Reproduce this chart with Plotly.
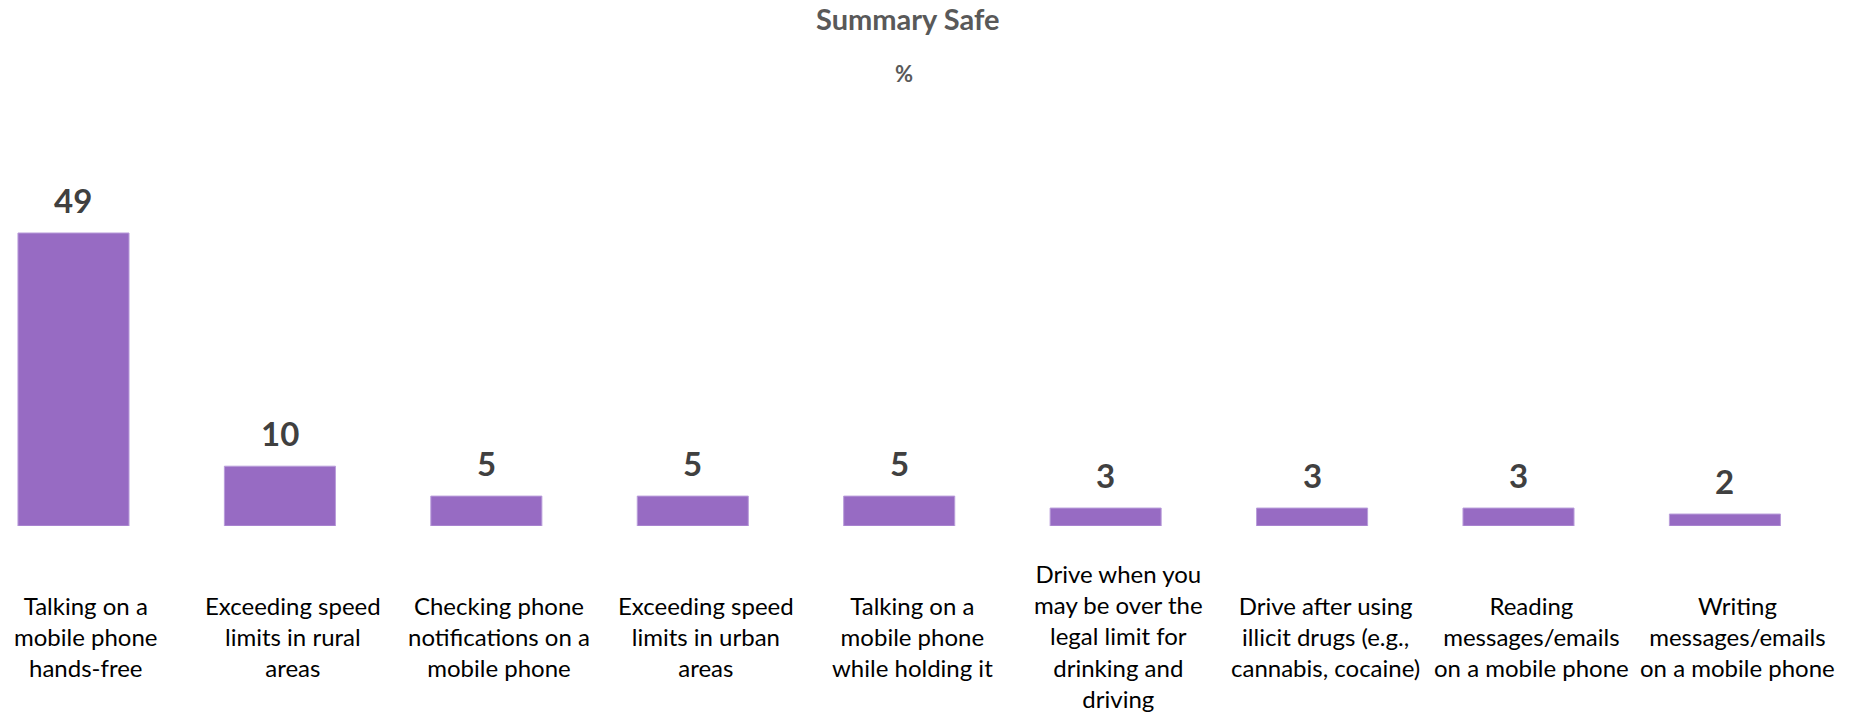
import plotly.graph_objects as go

# Survey items and share of respondents rating each behaviour as safe (%)
categories = [
    "Talking on a<br>mobile phone<br>hands-free",
    "Exceeding speed<br>limits in rural<br>areas",
    "Checking phone<br>notifications on a<br>mobile phone",
    "Exceeding speed<br>limits in urban<br>areas",
    "Talking on a<br>mobile phone<br>while holding it",
    "Drive when you<br>may be over the<br>legal limit for<br>drinking and<br>driving",
    "Drive after using<br>illicit drugs (e.g.,<br>cannabis, cocaine)",
    "Reading<br>messages/emails<br>on a mobile phone",
    "Writing<br>messages/emails<br>on a mobile phone",
]
values = [49, 10, 5, 5, 5, 3, 3, 3, 2]

title_text = "Summary Safe"
unit_text = "%"

FONT = "Lato, 'Open Sans', sans-serif"
BAR_COLOR = "#976BC3"
BAR_EDGE = "#B99DDA"

fig = go.Figure()
fig.add_trace(go.Bar(
    x=list(range(len(categories))),
    y=values,
    marker=dict(color=BAR_COLOR, line=dict(color=BAR_EDGE, width=1)),
    width=0.538,
    hoverinfo="skip",
))

annotations = []
# value labels above each bar
for i, v in enumerate(values):
    annotations.append(dict(
        x=i, y=v, xref="x", yref="y",
        text=f"<b>{v}</b>", showarrow=False,
        xanchor="center", yanchor="bottom", yshift=11,
        font=dict(family=FONT, size=33, color="#404040"),
    ))
# category labels under the bars
for i, c in enumerate(categories):
    annotations.append(dict(
        x=i, y=0, xref="x", yref="paper",
        text=c, showarrow=False,
        xanchor="center", yanchor="middle", yshift=-110, xshift=13,
        align="center",
        font=dict(family=FONT, size=24, color="#000000"),
    ))
# chart heading and unit line
annotations.append(dict(
    x=907 / 1862, y=1, xref="paper", yref="paper",
    text=f"<b>{title_text}</b>", showarrow=False,
    xanchor="center", yanchor="middle", yshift=82,
    font=dict(family=FONT, size=29, color="#595959"),
))
annotations.append(dict(
    x=904 / 1862, y=1, xref="paper", yref="paper",
    text=f"<b>{unit_text}</b>", showarrow=False,
    xanchor="center", yanchor="middle", yshift=27,
    font=dict(family=FONT, size=22, color="#595959"),
))

fig.update_layout(
    width=1862, height=714,
    margin=dict(l=0, r=0, t=100, b=188, pad=0),
    paper_bgcolor="white", plot_bgcolor="white",
    showlegend=False,
    annotations=annotations,
    xaxis=dict(range=[-0.356, 8.664], showticklabels=False, showgrid=False,
               zeroline=False, showline=False, ticks=""),
    yaxis=dict(range=[0, 71.24], showticklabels=False, showgrid=False,
               zeroline=False, showline=False, ticks=""),
)

fig.write_html("out.html")
